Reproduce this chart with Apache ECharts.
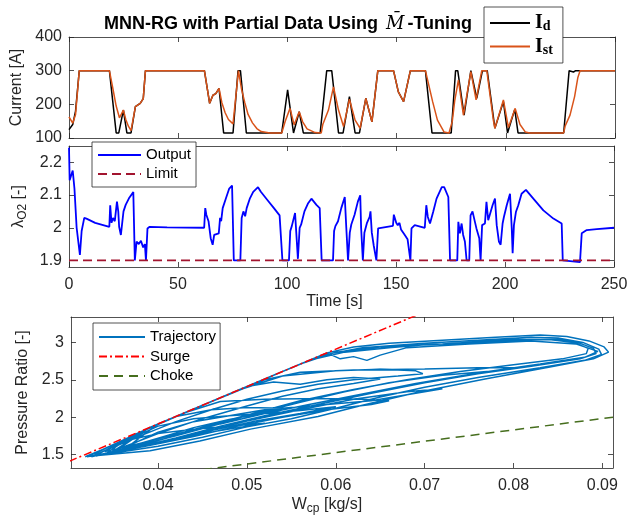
<!DOCTYPE html>
<html><head><meta charset="utf-8">
<script src="https://cdn.jsdelivr.net/npm/echarts@6/dist/echarts.min.js"></script>
<style>html,body{margin:0;padding:0;background:#fff}#c{width:636px;height:518px}</style>
</head><body><div id="c"></div><script>
// ---------- data ----------
const timeTicks = [0, 50, 100, 150, 200, 250];
const currentTicks = [100, 200, 300, 400];
const lambdaTicks = [1.9, 2, 2.1, 2.2];
const wcpTicks = [0.04, 0.05, 0.06, 0.07, 0.08, 0.09];
const prTicks = [1.5, 2, 2.5, 3];

// [time s, current A]
const currentId = [[0,125],[1.7,140],[3,180],[4.7,300],[18.5,300],[21.6,115],[22.8,115],[24.9,183],[26.5,115],[28.4,115],[30.4,193],[32.6,203],[34,217],[35,300],[62,300],[64.4,203],[65.9,227],[67.2,232],[68.7,247],[70.8,115],[75.1,115],[77.4,300],[78.5,300],[81.2,115],[97.4,115],[100.1,243],[102.8,115],[105.4,178],[107.3,115],[115,115],[118,300],[120.3,300],[123.4,115],[125.5,115],[128.4,223],[131,115],[133,115],[135.9,218],[138.7,148],[141.4,300],[148.6,300],[150.8,237],[153.2,208],[156.3,300],[163.2,300],[166.2,115],[175,115],[177,300],[178,300],[180.9,168],[184,300],[186.7,218],[189.3,300],[191.5,300],[195,129],[198.9,208],[200.8,115],[204.1,185],[205.6,115],[226.5,115],[229,300],[231,296],[232,300],[250,300]];
const currentIst = [[0,163],[1.7,144],[3,170],[4.7,300],[18.5,300],[20,250],[21.6,195],[23.1,160],[24.9,183],[26,155],[27.2,135],[28.4,122],[30.4,193],[32.6,203],[34,217],[35,300],[62,300],[64.4,203],[65.9,227],[67.2,232],[68.7,247],[70,205],[71.5,175],[73,155],[75.1,142],[77.6,300],[79,245],[80.5,205],[82,170],[84,145],[86,128],[88,119],[92,115],[97.4,115],[99,150],[101.2,188],[103.1,139],[105.4,178],[107,148],[109,127],[112.7,116],[115.5,115],[116.2,140],[118.8,183],[121.1,252],[123.4,183],[125.7,134],[128.4,215],[131,153],[133.3,129],[135.9,218],[138.7,148],[141.4,300],[148.6,300],[150.8,237],[153.2,208],[156.3,300],[163.2,300],[166.5,208],[168.7,153],[171.7,118],[174,115],[175.5,150],[176.6,210],[178.3,272],[180.6,168],[184,297],[186.4,213],[189,300],[191.3,300],[194.3,153],[195,129],[198.9,213],[201.2,131],[204.3,188],[206.5,140],[208.9,118],[211,115],[226.5,115],[227.2,136],[229.4,168],[231.5,223],[233,280],[234,300],[250,300]];

// [time s, lambda_O2]
const lambdaO2 = [[0,2.245],[0.3,2.145],[1.7,2.175],[2.5,2.12],[3.5,2.0],[5,1.917],[5.8,1.99],[7,2.03],[8,2.028],[12,2.015],[18.5,2.003],[18.9,2.069],[19.5,2.015],[20.2,2.03],[21,2.02],[22,2.08],[22.6,2.05],[23,2.003],[23.8,1.978],[25,2.05],[26,2.07],[27.5,2.09],[29.5,2.109],[30.2,1.9],[31,1.958],[32,1.95],[33,1.96],[34,1.94],[34.8,1.95],[35.3,1.9],[36,1.998],[37,2.003],[45,2.001],[62,2.0],[62.5,2.06],[63,2.04],[64,2.02],[65,1.968],[65.9,1.948],[66.6,1.978],[67.4,1.975],[68.7,1.983],[69.3,2.03],[69.8,2.02],[70.5,2.06],[72,2.09],[73.5,2.12],[74.8,2.129],[75.6,1.9],[78.6,1.9],[79.2,2.03],[80,2.05],[80.8,2.035],[81.5,2.06],[83,2.09],[84.5,2.11],[86.7,2.124],[88,2.11],[91,2.085],[94,2.06],[96.6,2.038],[97.9,1.9],[100.9,1.9],[101.5,1.99],[102.2,2.005],[103,2.01],[103.7,2.045],[104.2,2.04],[105,1.905],[105.8,2.0],[106.5,2.01],[108,2.05],[109.7,2.075],[111.2,2.089],[113.5,2.07],[115,2.06],[115.9,1.9],[121.1,1.9],[121.6,1.99],[122.2,2.005],[123.4,2.02],[124.9,2.06],[126.5,2.094],[127.2,2.0],[128,1.9],[128.8,1.985],[129.5,2.01],[131,2.04],[132.5,2.08],[133.6,2.099],[134,2.0],[134.8,1.9],[135.5,1.985],[136.7,2.015],[137.9,2.033],[138.3,2.05],[138.9,1.985],[139.8,1.945],[141,1.9],[141.8,1.998],[142.5,2.003],[148.6,2.006],[149,2.04],[149.4,2.045],[150.1,2.015],[150.8,2.008],[151.6,2.015],[152.3,1.995],[153.8,1.98],[155.3,1.965],[156.6,1.9],[157.1,1.998],[158.6,2.008],[163.2,2.0],[163.9,2.069],[164.6,2.033],[165.6,2.013],[167.1,2.05],[168.6,2.089],[171,2.124],[172.1,2.124],[174,2.094],[174.8,1.9],[178.1,1.9],[178.6,2.018],[179.3,1.983],[180.1,2.013],[180.8,1.978],[181.6,1.958],[182.4,1.9],[183.6,1.9],[184.2,2.038],[185.1,2.05],[186.2,2.018],[186.9,1.998],[188.2,1.968],[188.8,1.9],[189.5,2.008],[190.8,2.013],[191.5,2.079],[192.3,2.023],[193.1,2.028],[194.3,2.069],[195.4,2.089],[196.2,2.008],[197.2,1.958],[198,1.948],[198.9,2.013],[199.5,2.033],[200.8,2.069],[202.3,2.104],[203.1,1.998],[203.5,1.922],[204.1,2.008],[205,2.048],[206.1,2.069],[207.6,2.104],[209.6,2.116],[213,2.089],[217.6,2.053],[222.2,2.028],[226,2.013],[226.5,1.9],[234.4,1.895],[235.2,1.983],[237.5,1.993],[242.1,1.996],[250,2.0]];
const limitLine = [[0,1.9],[250,1.9]];

// [W_cp kg/s, pressure ratio]
const trajectory = [
[0.0318,1.47],[0.0350,1.63],[0.0400,1.91],[0.0450,2.16],[0.0500,2.41],[0.0550,2.66],[0.0590,2.86],[0.0620,2.94],[0.0660,2.99],[0.0720,3.03],[0.0780,3.07],[0.0830,3.10],[0.0860,3.08],[0.0885,3.02],[0.0902,2.94],[0.0907,2.87],[0.0890,2.78],[0.0841,2.67],[0.0768,2.51],[0.0691,2.33],[0.0630,2.16],[0.0580,2.01],[0.0504,1.84],[0.0447,1.68],[0.0391,1.55],[0.0335,1.49],[0.0320,1.475],
[0.0330,1.52],[0.0360,1.69],[0.0420,2.01],[0.0480,2.31],[0.0540,2.61],[0.0585,2.83],[0.0630,2.93],[0.0700,2.99],[0.0760,3.03],[0.0820,3.07],[0.0850,3.06],[0.0878,3.00],[0.0896,2.91],[0.0899,2.84],[0.0880,2.76],[0.0830,2.66],[0.0760,2.53],[0.0700,2.40],[0.0650,2.27],[0.0600,2.12],[0.0550,1.98],[0.0500,1.87],[0.0450,1.73],[0.0400,1.61],[0.0350,1.52],
[0.0380,1.80],[0.0430,2.06],[0.0500,2.41],[0.0560,2.71],[0.0600,2.87],[0.0650,2.94],[0.0720,2.98],[0.0800,3.04],[0.0845,3.05],[0.0872,3.00],[0.0890,2.92],[0.0893,2.85],[0.0875,2.78],[0.0820,2.68],[0.0760,2.58],[0.0700,2.46],[0.0640,2.32],[0.0580,2.17],[0.0520,2.02],[0.0470,1.88],[0.0420,1.72],[0.0370,1.58],[0.0340,1.50],
[0.0370,1.75],[0.0420,2.01],[0.0480,2.31],[0.0530,2.56],[0.0570,2.76],[0.0610,2.87],[0.0660,2.93],[0.0700,2.97],[0.0780,3.01],[0.0840,3.04],[0.0868,3.00],[0.0884,2.92],[0.0882,2.85],[0.0855,2.78],[0.0800,2.70],[0.0740,2.61],[0.0680,2.50],[0.0620,2.37],[0.0560,2.22],[0.0510,2.06],[0.0460,1.90],[0.0410,1.74],[0.0370,1.62],[0.0340,1.54],
[0.0380,1.80],[0.0430,2.06],[0.0490,2.36],[0.0540,2.55],[0.0600,2.62],[0.0650,2.64],[0.0690,2.62],[0.0698,2.58],[0.0670,2.55],[0.0620,2.50],[0.0580,2.44],[0.0540,2.35],[0.0500,2.24],[0.0460,2.10],[0.0420,1.94],[0.0380,1.75],[0.0350,1.60],
[0.0380,1.80],[0.0430,2.06],[0.0470,2.21],[0.0520,2.24],[0.0580,2.25],[0.0630,2.24],[0.0660,2.22],[0.0640,2.17],[0.0590,2.10],[0.0540,2.00],[0.0490,1.88],[0.0440,1.74],[0.0390,1.62],[0.0350,1.53],
[0.0390,1.86],[0.0420,2.01],[0.0460,2.10],[0.0500,2.13],[0.0540,2.12],[0.0520,2.06],[0.0480,1.97],[0.0440,1.86],[0.0400,1.72],[0.0360,1.58],
[0.0400,1.80],[0.0440,1.94],[0.0480,2.02],[0.0520,2.05],[0.0560,2.09],[0.0600,2.14],[0.0560,2.05],[0.0510,1.95],[0.0460,1.82],[0.0410,1.68],[0.0360,1.55],
[0.0400,1.91],[0.0450,2.16],[0.0500,2.41],[0.0530,2.47],[0.0560,2.44],[0.0590,2.50],[0.0620,2.53],[0.0650,2.51],[0.0620,2.45],[0.0580,2.38],[0.0540,2.28],[0.0500,2.15],[0.0450,1.98],[0.0400,1.78],[0.0350,1.55],
[0.0370,1.70],[0.0400,1.78],[0.0440,1.84],[0.0480,1.88],[0.0520,1.92],[0.0480,1.84],[0.0440,1.76],[0.0400,1.66],[0.0360,1.56],[0.0330,1.49],
[0.0380,1.80],[0.0450,2.16],[0.0520,2.51],[0.0590,2.86],[0.0605,2.78],[0.0620,2.81],[0.0635,2.76],[0.0650,2.83],[0.0680,2.93],[0.0750,2.98],[0.0820,3.02],[0.0870,2.98],[0.0895,2.88],[0.0880,2.80],[0.0830,2.71],[0.0760,2.59],[0.0690,2.45],[0.0630,2.31],[0.0570,2.17],[0.0520,2.05],[0.0470,1.91],[0.0420,1.75],[0.0370,1.60],[0.0325,1.47],
[0.0360,1.66],[0.0400,1.88],[0.0440,1.98],[0.0480,2.02],[0.0520,2.10],[0.0560,2.14],[0.0600,2.18],[0.0640,2.22],[0.0680,2.30],[0.0720,2.38],[0.0680,2.34],[0.0620,2.24],[0.0560,2.10],[0.0500,1.95],[0.0450,1.80],[0.0400,1.66],[0.0350,1.53],[0.0320,1.47],
[0.0380,1.80],[0.0450,2.16],[0.0520,2.50],[0.0560,2.60],[0.0620,2.63],[0.0700,2.645],[0.0760,2.66],[0.0800,2.66],[0.0780,2.62],[0.0720,2.56],[0.0660,2.46],[0.0610,2.34],[0.0560,2.20],[0.0500,2.02],[0.0440,1.82],[0.0380,1.62],[0.0330,1.48]
];
const surgeLine = [[0.0300,1.41],[0.0700,3.41]];
const chokeLine = [[0.0400,1.222],[0.0912,2.0]];

// ---------- styling ----------
const C = '#262626';
const FONT = 'Liberation Sans';

function ax(o) {
  const tick = {show: true, inside: true, length: 5, lineStyle: {color: C, width: 0.8}};
  const lab = {show: !!o.labels, color: C, fontSize: 16, fontFamily: FONT, margin: o.margin || 8};
  if (o.ticks) { tick.customValues = o.ticks; lab.customValues = o.ticks; }
  const a = {type: 'value', gridIndex: o.grid, position: o.pos, min: o.min, max: o.max,
    axisLine: {show: true, onZero: false, lineStyle: {color: C, width: 0.8}},
    axisTick: tick, axisLabel: lab, splitLine: {show: false}};
  if (o.name) {
    a.name = o.name; a.nameLocation = 'middle'; a.nameGap = o.nameGap;
    if (o.nameRotate) a.nameRotate = o.nameRotate;
    a.nameTextStyle = {color: C, fontSize: 16, fontFamily: FONT, padding: o.namePad || 0,
      rich: {s: {fontSize: 12, fontFamily: FONT, color: C, verticalAlign: 'bottom', padding: [8, 0, 0, 0]}}};
  }
  return a;
}

const xAxes = [
  ax({grid: 0, pos: 'bottom', min: 0, max: 250, ticks: timeTicks}),
  ax({grid: 0, pos: 'top', min: 0, max: 250, ticks: timeTicks}),
  ax({grid: 1, pos: 'bottom', min: 0, max: 250, ticks: timeTicks, labels: true, margin: 10, name: 'Time [s]', nameGap: 27, namePad: [0, 14, 0, 0]}),
  ax({grid: 1, pos: 'top', min: 0, max: 250, ticks: timeTicks}),
  ax({grid: 2, pos: 'bottom', min: 0.0302, max: 0.0912, ticks: wcpTicks, labels: true, margin: 10, name: 'W{s|cp} [kg/s]', nameGap: 27, namePad: [0, 30, 0, 0]}),
  ax({grid: 2, pos: 'top', min: 0.0302, max: 0.0912, ticks: wcpTicks})
];
const yAxes = [
  ax({grid: 0, pos: 'left', min: 100, max: 400, ticks: currentTicks, labels: true, margin: 7, name: 'Current [A]', nameGap: 40, nameRotate: 90}),
  ax({grid: 0, pos: 'right', min: 100, max: 400, ticks: currentTicks}),
  ax({grid: 1, pos: 'left', min: 1.88, max: 2.25, ticks: lambdaTicks, labels: true, margin: 7, name: 'λ{s|O2} [-]', nameGap: 40, nameRotate: 90}),
  ax({grid: 1, pos: 'right', min: 1.88, max: 2.25, ticks: lambdaTicks}),
  ax({grid: 2, pos: 'left', min: 1.32, max: 3.34, ticks: prTicks, labels: true, margin: 7, name: 'Pressure Ratio [-]', nameGap: 36, nameRotate: 90}),
  ax({grid: 2, pos: 'right', min: 1.32, max: 3.34, ticks: prTicks})
];

function lineSeries(name, xi, data, color, width, type) {
  return {type: 'line', name: name, xAxisIndex: xi, yAxisIndex: xi, data: data, symbol: 'none',
    showSymbol: false, animation: false, clip: true,
    lineStyle: {color: color, width: width, type: type || 'solid'}, itemStyle: {color: color}};
}

const legBase = {orient: 'vertical', backgroundColor: '#fff', borderColor: C, borderWidth: 0.8,
  borderRadius: 0, itemHeight: 14, selectedMode: false,
  itemStyle: {opacity: 0, color: 'rgba(0,0,0,0)', borderWidth: 0},
  textStyle: {fontFamily: FONT, fontSize: 15, color: '#000', lineHeight: 16}};

const option = {
  animation: false,
  backgroundColor: '#fff',
  title: {
    text: '{a|MNN-RG with Partial Data Using }{m|M̄}{a|-Tuning}',
    left: 99, top: 10,
    textStyle: {rich: {
      a: {fontFamily: FONT, fontWeight: 'bold', fontSize: 18, color: '#000'},
      m: {fontFamily: 'DejaVu Serif', fontStyle: 'italic', fontWeight: 'normal', fontSize: 18, color: '#000', padding: [0, 3, 0, 3]}
    }}
  },
  grid: [
    {left: 69, right: 21, top: 37, height: 101},
    {left: 69, right: 22, top: 146, height: 121},
    {left: 71, right: 23, top: 317, height: 151}
  ],
  xAxis: xAxes,
  yAxis: yAxes,
  legend: [
    Object.assign({}, legBase, {
      data: ['Id', 'Ist'], left: 484, top: 7, itemWidth: 40, itemHeight: 20, itemGap: 3,
      padding: [6, 10, 6, 5],
      formatter: function (n) { return n === 'Id' ? '{i|I}{s|d}' : '{i|I}{s|st}'; },
      textStyle: {rich: {
        i: {fontFamily: 'Liberation Serif', fontWeight: 'bold', fontSize: 20, color: '#000'},
        s: {fontFamily: 'Liberation Serif', fontWeight: 'bold', fontSize: 14, color: '#000', verticalAlign: 'bottom', padding: [7, 0, 0, 0]}
      }}
    }),
    Object.assign({}, legBase, {data: ['Output', 'Limit'], left: 92, top: 142, itemWidth: 43, itemGap: 3, padding: [5, 5, 5, 5]}),
    Object.assign({}, legBase, {data: ['Trajectory', 'Surge', 'Choke'], left: 93, top: 323, itemWidth: 46, itemGap: 3.5, padding: [6, 4, 6, 5]})
  ],
  series: [
    lineSeries('Id', 0, currentId, '#000000', 1.5),
    lineSeries('Ist', 0, currentIst, '#D95319', 1.5),
    lineSeries('Output', 2, lambdaO2, '#0000FF', 1.8),
    lineSeries('Limit', 2, limitLine, '#A2142F', 1.8, [9, 5]),
    lineSeries('Trajectory', 4, trajectory, '#0072BD', 1.5),
    lineSeries('Surge', 4, surgeLine, '#FF0000', 1.5, [8, 3, 2, 3]),
    lineSeries('Choke', 4, chokeLine, '#466E1E', 1.5, [9, 6])
  ]
};
const chart = echarts.init(document.getElementById('c'), null, {renderer: 'canvas'});
chart.setOption(option);
</script></body></html>
